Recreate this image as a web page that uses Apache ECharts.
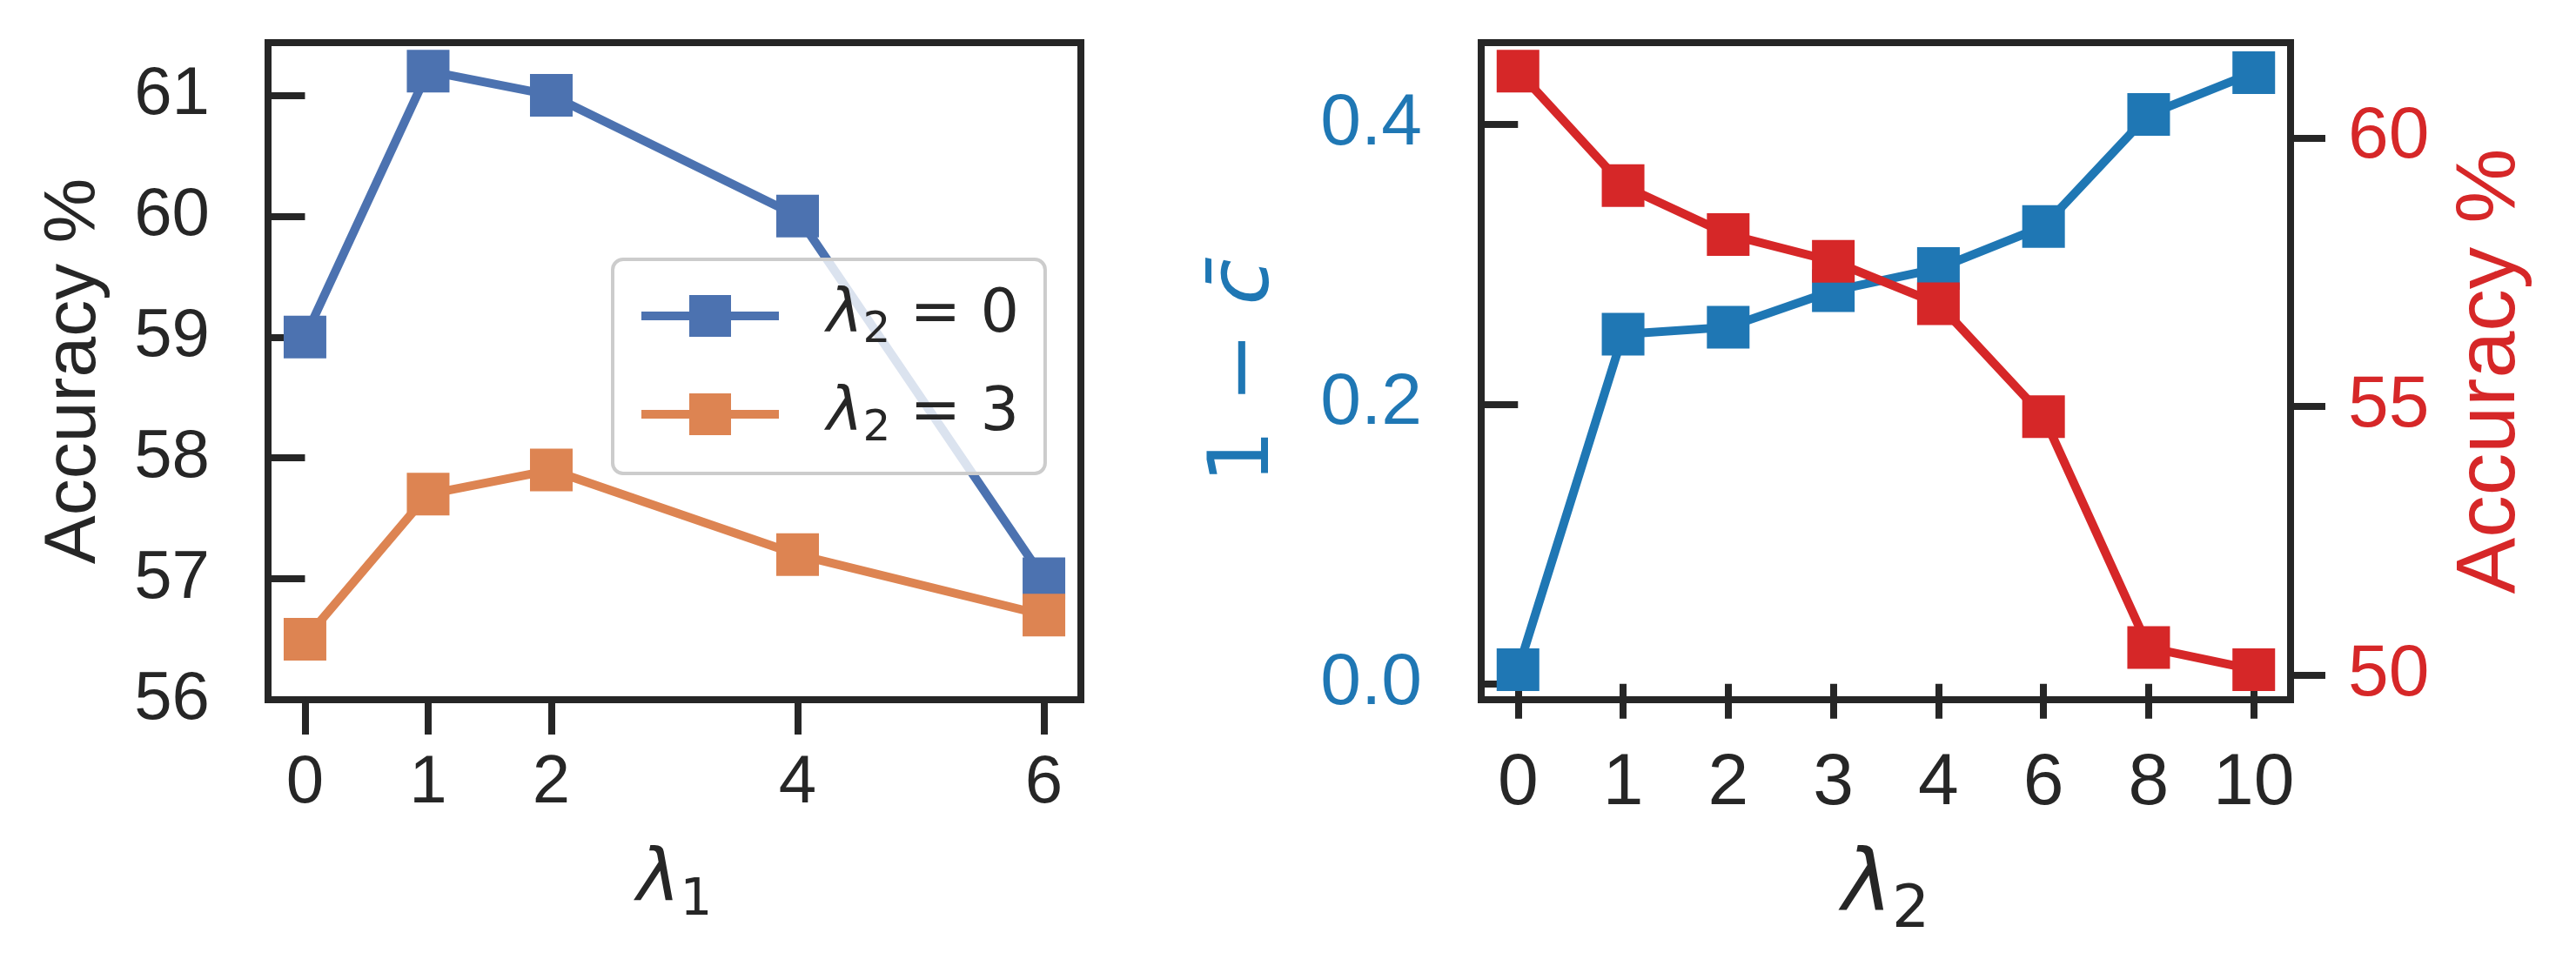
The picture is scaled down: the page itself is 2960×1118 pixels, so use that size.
<!DOCTYPE html>
<html>
<head>
<meta charset="utf-8">
<script src="https://cdn.jsdelivr.net/npm/echarts@6/dist/echarts.min.js"></script>
<style>
  html, body { margin: 0; padding: 0; background: #fff; }
  #chart { width: 2960px; height: 1118px; }
</style>
</head>
<body>
<div id="chart"></div>
<script>
// left panel: accuracy vs lambda1
const lambda1 = [0, 1, 2, 4, 6];
const accLam2Zero = [59.0, 61.2, 61.0, 60.0, 57.0];
const accLam2Three = [56.5, 57.7, 57.9, 57.2, 56.7];
const leftYTicks = [56, 57, 58, 59, 60, 61];

// right panel: 1 - c and accuracy vs lambda2 (evenly spaced categories)
const lambda2 = ['0', '1', '2', '3', '4', '6', '8', '10'];
const oneMinusC = [0.01, 0.25, 0.255, 0.281, 0.297, 0.327, 0.407, 0.437];
const accRight = [61.24, 59.11, 58.2, 57.7, 56.91, 54.81, 50.51, 50.1];
const cTicks = [0, 0.2, 0.4];
const accTicks = [50, 55, 60];

const INK = '#262626';
const SANS = 'Liberation Sans';
const MATH = 'DejaVu Sans';
const LINE_W = 10;

const chart = echarts.init(document.getElementById('chart'));

// lambda with a lowered, smaller subscript (rich text)
function mathRich(main, sub, pad, color) {
  return {
    l: { fontFamily: MATH, fontStyle: 'italic', fontSize: main, lineHeight: main, verticalAlign: 'top', color: color },
    s: { fontFamily: MATH, fontSize: sub, lineHeight: sub, padding: [pad, 0, 0, 0], verticalAlign: 'top', color: color },
    t: { fontFamily: MATH, fontSize: main, lineHeight: main, verticalAlign: 'top', color: color }
  };
}

function ticks(values) {
  return { show: true, inside: false, length: 40, lineStyle: { color: INK, width: 8 }, customValues: values };
}

const legendRich = mathRich(70, 50, 27, INK);
legendRich.l.padding = [0, 0, 0, 50];

const option = {
  backgroundColor: '#ffffff',
  animation: false,
  grid: [
    { left: 308, top: 49, width: 934, height: 755, show: true, borderColor: INK, borderWidth: 8, backgroundColor: 'transparent' },
    { left: 1702, top: 49, width: 930, height: 755, show: true, borderColor: INK, borderWidth: 8, backgroundColor: 'transparent' }
  ],
  legend: {
    data: ['lam2_0', 'lam2_3'],
    orient: 'vertical',
    left: 704,
    top: 298,
    padding: [30, 30, 26, 28],
    itemGap: 36,
    itemWidth: 158,
    itemHeight: 60,
    lineStyle: { width: LINE_W },
    backgroundColor: 'rgba(255,255,255,0.8)',
    borderColor: '#cccccc',
    borderWidth: 4,
    borderRadius: 12,
    textStyle: { color: INK, fontFamily: MATH, fontSize: 70, rich: legendRich },
    formatter: function (name) {
      return name === 'lam2_0' ? '{l|λ}{s|2}{t| = 0}' : '{l|λ}{s|2}{t| = 3}';
    }
  },
  xAxis: [
    {
      type: 'value', gridIndex: 0, min: -0.3, max: 6.3,
      axisLine: { show: false }, splitLine: { show: false },
      axisTick: ticks(lambda1),
      axisLabel: { customValues: lambda1, color: INK, fontFamily: SANS, fontSize: 78, margin: 57 },
      name: '{l|λ}{s|1}',
      nameLocation: 'middle',
      nameGap: 167,
      nameTextStyle: { rich: mathRich(84, 58, 36, INK) }
    },
    {
      type: 'value', gridIndex: 1, min: -0.35, max: 7.35,
      axisLine: { show: false }, splitLine: { show: false },
      axisTick: ticks(lambda2.map((_, i) => i)),
      axisLabel: {
        customValues: lambda2.map((_, i) => i), color: INK, fontFamily: SANS, fontSize: 84, margin: 55,
        formatter: v => lambda2[Math.round(v)]
      },
      name: '{l|λ}{s|2}',
      nameLocation: 'middle',
      nameGap: 168,
      nameTextStyle: { rich: mathRich(97, 68, 41, INK) }
    }
  ],
  yAxis: [
    {
      type: 'value', gridIndex: 0, min: 56, max: 61.435,
      axisLine: { show: false }, splitLine: { show: false },
      axisTick: ticks(leftYTicks),
      axisLabel: { customValues: leftYTicks, color: INK, fontFamily: SANS, fontSize: 78, margin: 67 },
      name: 'Accuracy %',
      nameLocation: 'middle',
      nameRotate: 90,
      nameGap: 180,
      nameTextStyle: { color: INK, fontFamily: SANS, fontSize: 84, lineHeight: 84 }
    },
    {
      type: 'value', gridIndex: 1, position: 'left', min: -0.0114, max: 0.4584,
      axisLine: { show: false }, splitLine: { show: false },
      axisTick: ticks(cTicks),
      axisLabel: { customValues: cTicks, color: '#1f77b4', fontFamily: SANS, fontSize: 84, margin: 68, formatter: v => v.toFixed(1) },
      name: '{n|1 − }{c|c̄}',
      nameLocation: 'middle',
      nameRotate: 90,
      nameGap: 222,
      nameTextStyle: {
        rich: {
          n: { fontFamily: MATH, fontSize: 97, lineHeight: 97, color: '#1f77b4' },
          c: { fontFamily: MATH, fontStyle: 'italic', fontSize: 97, lineHeight: 97, color: '#1f77b4' }
        }
      }
    },
    {
      type: 'value', gridIndex: 1, position: 'right', min: 49.54, max: 61.77,
      axisLine: { show: false }, splitLine: { show: false },
      axisTick: ticks(accTicks),
      axisLabel: { customValues: accTicks, color: '#d62728', fontFamily: SANS, fontSize: 84, margin: 66 },
      name: 'Accuracy %',
      nameLocation: 'middle',
      nameRotate: 90,
      nameGap: 182,
      nameTextStyle: { color: '#d62728', fontFamily: SANS, fontSize: 97, lineHeight: 97 }
    }
  ],
  series: [
    {
      name: 'lam2_0', type: 'line', xAxisIndex: 0, yAxisIndex: 0,
      data: lambda1.map((x, i) => [x, accLam2Zero[i]]),
      symbol: 'rect', symbolSize: 49,
      lineStyle: { color: '#4c72b0', width: LINE_W },
      itemStyle: { color: '#4c72b0' }
    },
    {
      name: 'lam2_3', type: 'line', xAxisIndex: 0, yAxisIndex: 0,
      data: lambda1.map((x, i) => [x, accLam2Three[i]]),
      symbol: 'rect', symbolSize: 49,
      lineStyle: { color: '#dd8452', width: LINE_W },
      itemStyle: { color: '#dd8452' }
    },
    {
      name: 'oneMinusC', type: 'line', xAxisIndex: 1, yAxisIndex: 1,
      data: lambda2.map((_, i) => [i, oneMinusC[i]]),
      symbol: 'rect', symbolSize: 49,
      lineStyle: { color: '#1f77b4', width: LINE_W },
      itemStyle: { color: '#1f77b4' }
    },
    {
      name: 'accRight', type: 'line', xAxisIndex: 1, yAxisIndex: 2,
      data: lambda2.map((_, i) => [i, accRight[i]]),
      symbol: 'rect', symbolSize: 49,
      lineStyle: { color: '#d62728', width: LINE_W },
      itemStyle: { color: '#d62728' }
    }
  ]
};

chart.setOption(option);
</script>
</body>
</html>
